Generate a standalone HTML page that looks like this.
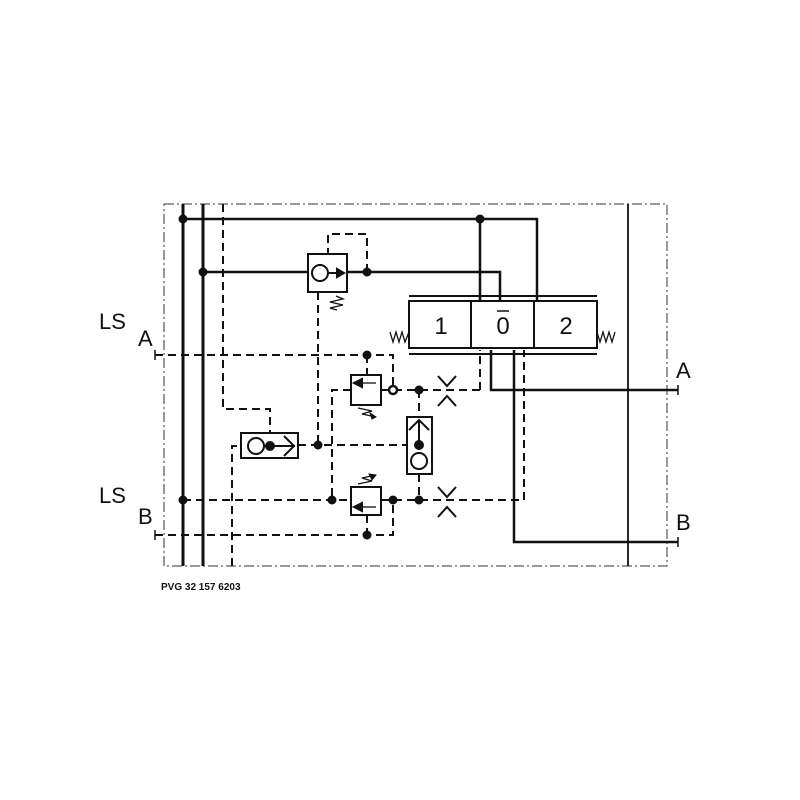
<!DOCTYPE html>
<html><head><meta charset="utf-8"><style>html,body{margin:0;padding:0;background:#fff}svg{display:block}</style></head>
<body>
<svg width="800" height="800" viewBox="0 0 800 800" xmlns="http://www.w3.org/2000/svg" font-family="Liberation Sans, sans-serif">
<rect width="800" height="800" fill="#fff"/>
<!-- border dash-dot -->
<rect x="164" y="204" width="503" height="362" fill="none" stroke="#333" stroke-width="1" stroke-dasharray="10,3,2,3"/>
<line x1="628" y1="204" x2="628" y2="566" stroke="#111" stroke-width="1.8"/>
<g stroke="#111" fill="none" stroke-width="2.5">
<line x1="183" y1="204" x2="183" y2="566" stroke-width="3"/>
<line x1="203" y1="204" x2="203" y2="566" stroke-width="3"/>
<polyline points="183,219 537,219 537,300"/>
<line x1="480" y1="219" x2="480" y2="300"/>
<line x1="203" y1="272" x2="308" y2="272"/>
<polyline points="347,272 500,272 500,308"/>
<line x1="495" y1="308" x2="505" y2="308" stroke-width="1.5"/>
<polyline points="491,350 491,390 678,390"/>
<polyline points="514,350 514,542 678,542"/>
<line x1="678" y1="385" x2="678" y2="395" stroke-width="1.5"/>
<line x1="678" y1="537" x2="678" y2="547" stroke-width="1.5"/>
</g>
<!-- dashed lines -->
<g stroke="#111" fill="none" stroke-width="2" stroke-dasharray="8,5">
<polyline points="223,204 223,409 270,409 270,433"/>
<polyline points="232,566 232,446 241,446"/>
<polyline points="367,272 367,234 328,234 328,254"/>
<line x1="318" y1="292" x2="318" y2="445"/>
<polyline points="155,355 393,355 393,390"/>
<line x1="367" y1="355" x2="367" y2="375"/>
<polyline points="351,390 332,390 332,500"/>
<line x1="381" y1="390" x2="480" y2="390"/>
<line x1="480" y1="390" x2="480" y2="350"/>
<line x1="298" y1="445" x2="407" y2="445"/>
<line x1="419" y1="390" x2="419" y2="417"/>
<line x1="419" y1="474" x2="419" y2="500"/>
<line x1="183" y1="500" x2="351" y2="500"/>
<polyline points="381,500 524,500 524,350"/>
<polyline points="155,535 393,535 393,500"/>
<line x1="367" y1="515" x2="367" y2="535"/>
</g>
<!-- port T ends -->
<g stroke="#111" stroke-width="1.5">
<line x1="155" y1="350" x2="155" y2="360"/>
<line x1="155" y1="530" x2="155" y2="540"/>
</g>
<!-- dots -->
<g fill="#111">
<circle cx="183" cy="219" r="4.5"/><circle cx="480" cy="219" r="4.5"/>
<circle cx="203" cy="272" r="4.5"/><circle cx="367" cy="272" r="4.5"/>
<circle cx="367" cy="355" r="4.5"/><circle cx="419" cy="390" r="4.5"/>
<circle cx="318" cy="445" r="4.5"/><circle cx="183" cy="500" r="4.5"/>
<circle cx="332" cy="500" r="4.5"/><circle cx="419" cy="500" r="4.5"/>
<circle cx="367" cy="535" r="4.5"/><circle cx="393" cy="500" r="4.5"/>
</g>
<circle cx="393" cy="390" r="4" fill="#fff" stroke="#111" stroke-width="2.5"/>
<!-- check valve top -->
<g stroke="#111" fill="none" stroke-width="2">
<rect x="308" y="254" width="39" height="38" fill="#fff"/>
<circle cx="320" cy="273" r="8"/>
<line x1="328" y1="273" x2="337" y2="273"/>
<polygon points="337,269 344,273 337,277" fill="#111"/>
<polyline points="336,296 343,299 330,302 343,305 330,308 337,310" stroke-width="1.3"/>
</g>
<!-- spool -->
<g stroke="#111" fill="none" stroke-width="2">
<line x1="409" y1="296" x2="597" y2="296"/>
<line x1="409" y1="354" x2="597" y2="354"/>
<rect x="409" y="301" width="188" height="47" fill="#fff"/>
<line x1="471" y1="301" x2="471" y2="348"/>
<line x1="534" y1="301" x2="534" y2="348"/>
<polyline points="390,332 393,342 396,332 399,342 402,332 405,342 409,332" stroke-width="1.3"/>
<polyline points="597,332 600,342 603,332 606,342 609,332 612,342 615,332" stroke-width="1.3"/>
</g>
<line x1="497" y1="311" x2="509" y2="311" stroke="#111" stroke-width="1.5"/>
<g font-size="24" fill="#111" text-anchor="middle">
<text x="441" y="334">1</text><text x="503" y="334">0</text><text x="566" y="334">2</text>
</g>
<!-- relief valves -->
<g stroke="#111" fill="none" stroke-width="2">
<rect x="351" y="375" width="30" height="30" fill="#fff"/>
<line x1="360" y1="383" x2="376" y2="383" stroke-width="1.3"/>
<polygon points="354,383 362,379 362,387" fill="#111"/>
<polyline points="358,408 372,411 362,414 376,417" stroke-width="1.3"/>
<polygon points="376,417 370,413 372,419" fill="#111" stroke-width="1"/>
<rect x="351" y="487" width="30" height="28" fill="#fff"/>
<line x1="360" y1="507" x2="376" y2="507" stroke-width="1.3"/>
<polygon points="354,507 362,503 362,511" fill="#111"/>
<polyline points="358,484 372,481 362,478 376,475" stroke-width="1.3"/>
<polygon points="376,475 369,474 372,480" fill="#111" stroke-width="1"/>
</g>
<!-- shuttle valve left -->
<g stroke="#111" fill="none" stroke-width="2">
<rect x="241" y="433" width="57" height="25" fill="#fff"/>
<circle cx="256" cy="446" r="8"/>
<line x1="264" y1="446" x2="295" y2="446"/>
<polyline points="284,436 294,446 284,456"/>
<circle cx="270" cy="446" r="4" fill="#111"/>
</g>
<!-- shuttle valve right -->
<g stroke="#111" fill="none" stroke-width="2">
<rect x="407" y="417" width="25" height="57" fill="#fff"/>
<polyline points="409,430 419,420 429,430"/>
<line x1="419" y1="420" x2="419" y2="450"/>
<circle cx="419" cy="445" r="4" fill="#111"/>
<circle cx="419" cy="461" r="8"/>
</g>
<!-- throttles -->
<g stroke="#111" fill="none" stroke-width="2">
<polyline points="438,376 447,386 456,376"/><polyline points="438,406 447,396 456,406"/>
<polyline points="438,487 447,497 456,487"/><polyline points="438,517 447,507 456,517"/>
</g>
<!-- labels -->
<g fill="#111" font-size="22">
<text x="99" y="329">LS</text><text x="138" y="346">A</text>
<text x="99" y="503">LS</text><text x="138" y="524">B</text>
<text x="676" y="378">A</text><text x="676" y="530">B</text>
</g>
<text x="161" y="590" font-size="10" font-weight="bold" fill="#111">PVG 32 157 6203</text>
</svg>
</body></html>
